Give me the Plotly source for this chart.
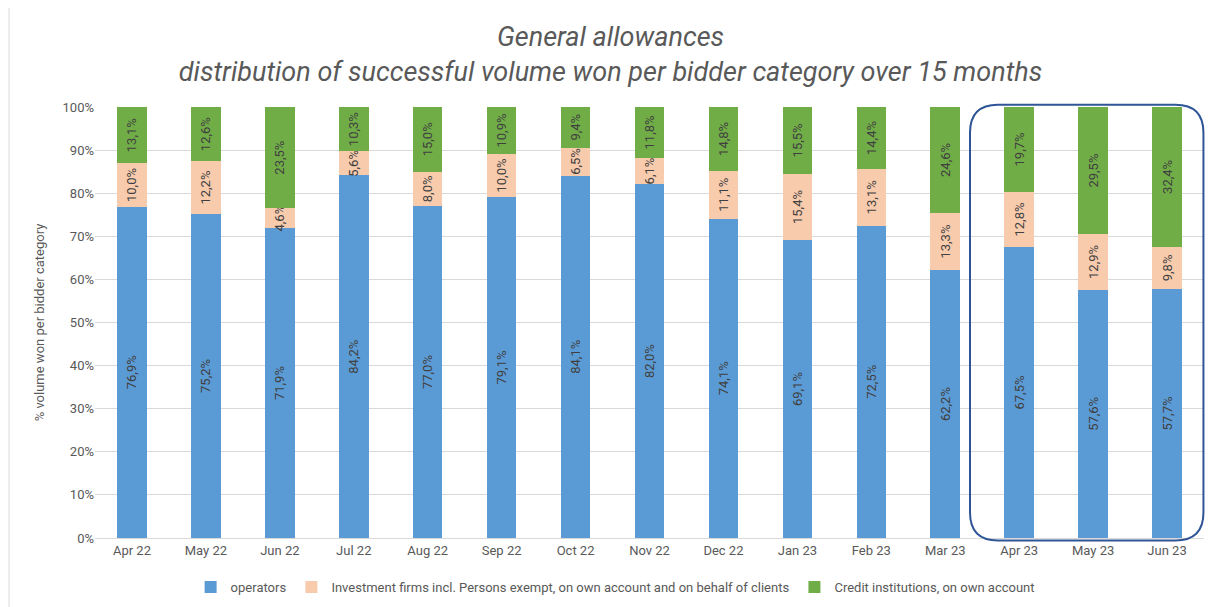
import plotly.graph_objects as go

months = ["Apr 22", "May 22", "Jun 22", "Jul 22", "Aug 22", "Sep 22", "Oct 22", "Nov 22",
          "Dec 22", "Jan 23", "Feb 23", "Mar 23", "Apr 23", "May 23", "Jun 23"]
operators = [76.9, 75.2, 71.9, 84.2, 77.0, 79.1, 84.1, 82.0, 74.1, 69.1, 72.5, 62.2, 67.5, 57.6, 57.7]
investment = [10.0, 12.2, 4.6, 5.6, 8.0, 10.0, 6.5, 6.1, 11.1, 15.4, 13.1, 13.3, 12.8, 12.9, 9.8]
credit = [13.1, 12.6, 23.5, 10.3, 15.0, 10.9, 9.4, 11.8, 14.8, 15.5, 14.4, 24.6, 19.7, 29.5, 32.4]

series = [
    ("operators", operators, "#5B9BD5"),
    ("Investment firms incl. Persons exempt, on own account and on behalf of clients", investment, "#F8CBAD"),
    ("Credit institutions, on own account", credit, "#70AD47"),
]

FONT = "Liberation Sans Narrow, Arial Narrow, Roboto, sans-serif"


def fmt(v):
    return f"{v:.1f}%".replace(".", ",")


fig = go.Figure()
for name, vals, color in series:
    fig.add_trace(go.Bar(
        x=months, y=vals, name=name,
        marker=dict(color=color, line=dict(width=0)),
        text=[fmt(v) for v in vals],
        textposition="inside",
        insidetextanchor="middle",
        textangle=-90,
        constraintext="none",
        textfont=dict(size=13, color="#404040", family=FONT),
    ))

# rounded frame around the last three months
l, r, b, t = 0.789, 0.9995, -0.006, 1.005
rx, ry = 28 / 1109, 28 / 431
path = (f"M {l + rx},{t} L {r - rx},{t} Q {r},{t} {r},{t - ry} "
        f"L {r},{b + ry} Q {r},{b} {r - rx},{b} "
        f"L {l + rx},{b} Q {l},{b} {l},{b + ry} "
        f"L {l},{t - ry} Q {l},{t} {l + rx},{t} Z")

fig.update_layout(
    width=1205, height=599,
    barmode="stack", barnorm="percent", bargap=0.6,
    plot_bgcolor="white", paper_bgcolor="white",
    margin=dict(l=87, r=9, t=99, b=69, autoexpand=False),
    font=dict(family=FONT, color="#595959"),
    title=dict(
        text="<i>General allowances<br>distribution of successful volume won per bidder category over 15 months</i>",
        x=0.5, xanchor="center", y=0.9366, yanchor="top",
        font=dict(size=27, color="#595959", family=FONT),
    ),
    xaxis=dict(showgrid=False, showline=True, linecolor="#D9D9D9", ticks="",
               tickfont=dict(size=13, color="#595959")),
    yaxis=dict(range=[0, 100], dtick=10, ticksuffix="%", showgrid=True, gridcolor="#D9D9D9",
               zeroline=False, tickfont=dict(size=13, color="#595959"),
               title=dict(text="% volume won per bidder category", font=dict(size=13, color="#595959"),
                          standoff=14)),
    legend=dict(orientation="h", x=0.469, xanchor="center", y=-0.114, yanchor="middle",
                font=dict(size=13, color="#595959"), itemwidth=30, traceorder="normal"),
    shapes=[
        dict(type="path", xref="paper", yref="paper", path=path,
             line=dict(color="#2F5597", width=2), fillcolor="rgba(0,0,0,0)"),
        dict(type="rect", xref="paper", yref="paper", x0=-0.0775, x1=1.2, y0=-0.3, y1=1.3,
             line=dict(color="#D9D9D9", width=1), fillcolor="rgba(0,0,0,0)", layer="below"),
    ],
)

fig.write_html("out.html")
